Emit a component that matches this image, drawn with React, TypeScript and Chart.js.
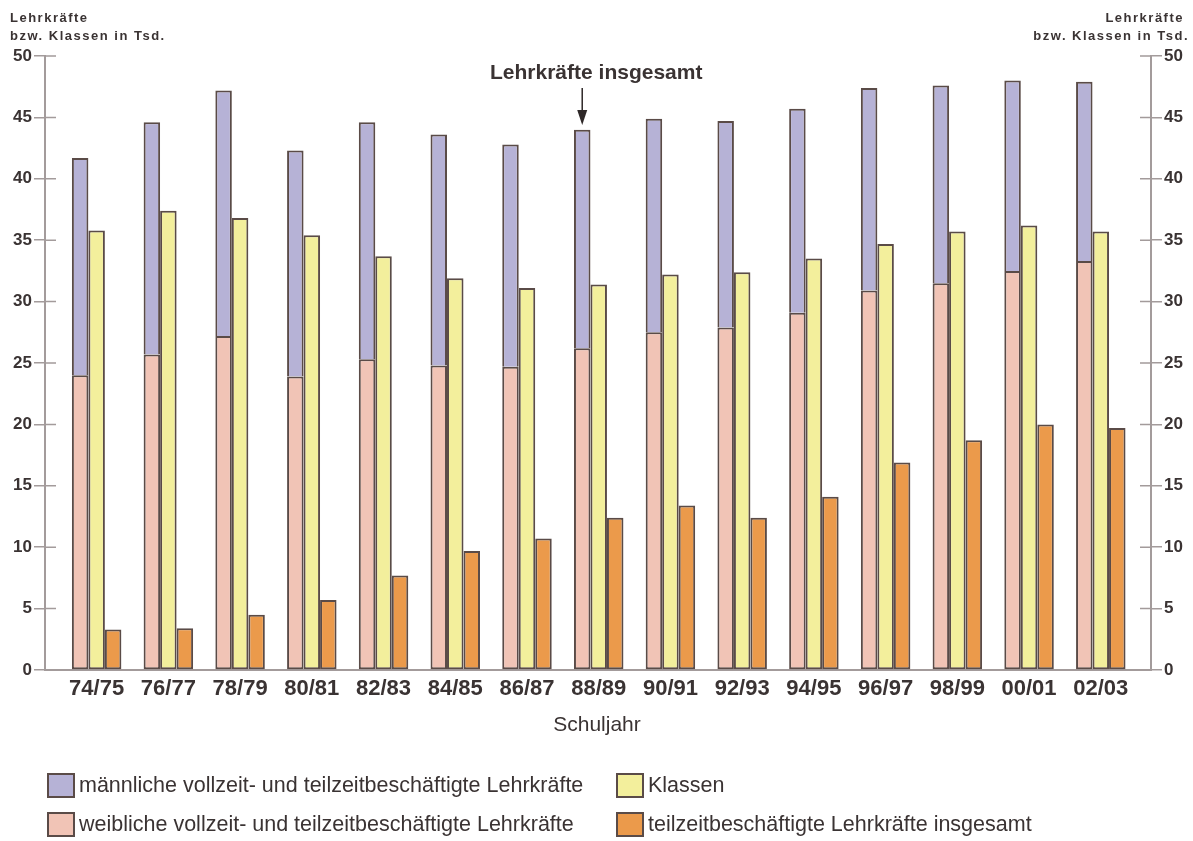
import React, { useEffect, useRef } from "react";
import { Chart, registerables } from "chart.js";

Chart.register(...registerables);

const schoolYears = ["74/75", "76/77", "78/79", "80/81", "82/83", "84/85", "86/87", "88/89", "90/91", "92/93", "94/95", "96/97", "98/99", "00/01", "02/03"];
const femaleTeachers = [24.0, 25.7, 27.2, 23.9, 25.3, 24.8, 24.7, 26.2, 27.5, 27.9, 29.1, 30.9, 31.5, 32.5, 33.3];
const maleTeachers = [17.7, 18.9, 20.0, 18.4, 19.3, 18.8, 18.1, 17.8, 17.4, 16.8, 16.6, 16.5, 16.1, 15.5, 14.6];
const classes = [35.8, 37.4, 36.8, 35.4, 33.7, 31.9, 31.1, 31.4, 32.2, 32.4, 33.5, 34.7, 35.7, 36.2, 35.7];
const partTime = [3.3, 3.4, 4.5, 5.7, 7.7, 9.7, 10.7, 12.4, 13.4, 12.4, 14.1, 16.9, 18.7, 20.0, 19.7];
const yTicks = [0, 5, 10, 15, 20, 25, 30, 35, 40, 45, 50];

const legendLabels = [
  "männliche vollzeit- und teilzeitbeschäftigte Lehrkräfte",
  "Klassen",
  "weibliche vollzeit- und teilzeitbeschäftigte Lehrkräfte",
  "teilzeitbeschäftigte Lehrkräfte insgesamt",
];

const FONT = '"Liberation Sans", Arial, Helvetica, sans-serif';
const TEXT = "#3a3333";
const AXIS = "#a39b9b";
const EDGE = "#5a4b47";
const C_MALE = "#b6b2d6";
const C_FEMALE = "#f1c4b6";
const C_CLASS = "#f3ef9c";
const C_PART = "#eb9a4b";

const toXY = (arr: number[]) => arr.map((v, i) => ({ x: i, y: v }));

const extrasPlugin = {
  id: "extras",
  afterDraw(chart: any) {
    const ctx = chart.ctx;
    const { left, right } = chart.chartArea;
    const yScale = chart.scales.y;
    ctx.save();
    // inner halves of the crossing ticks
    ctx.strokeStyle = AXIS;
    ctx.lineWidth = 1.5;
    yTicks.forEach((t) => {
      const py = yScale.getPixelForValue(t);
      if (t === 0) return;
      ctx.beginPath();
      ctx.moveTo(left, py);
      ctx.lineTo(left + 11, py);
      ctx.moveTo(right - 11, py);
      ctx.lineTo(right, py);
      ctx.stroke();
    });

    // axis titles
    ctx.fillStyle = TEXT;
    ctx.font = `bold 13px ${FONT}`;
    (ctx as any).letterSpacing = "1.5px";
    ctx.textBaseline = "alphabetic";
    ctx.textAlign = "left";
    ctx.fillText("Lehrkräfte", 10, 22);
    ctx.fillText("bzw. Klassen in Tsd.", 10, 40);
    ctx.textAlign = "right";
    ctx.fillText("Lehrkräfte", 1184, 22);
    ctx.fillText("bzw. Klassen in Tsd.", 1189, 40);
    (ctx as any).letterSpacing = "0px";

    // annotation
    const meta = chart.getDatasetMeta(1);
    const bar = meta.data[7];
    if (bar) {
      const ax = bar.x;
      ctx.textAlign = "center";
      ctx.textBaseline = "middle";
      ctx.font = `bold 21px ${FONT}`;
      ctx.fillStyle = TEXT;
      ctx.fillText("Lehrkräfte insgesamt", ax + 14, 73);
      ctx.strokeStyle = "#2e2828";
      ctx.lineWidth = 1.5;
      ctx.beginPath();
      ctx.moveTo(ax, 88);
      ctx.lineTo(ax, 114);
      ctx.stroke();
      ctx.fillStyle = "#2e2828";
      ctx.beginPath();
      ctx.moveTo(ax - 5, 110);
      ctx.lineTo(ax + 5, 110);
      ctx.lineTo(ax, 125);
      ctx.closePath();
      ctx.fill();
    }

    // x axis title
    ctx.fillStyle = TEXT;
    ctx.font = `21px ${FONT}`;
    ctx.textAlign = "center";
    ctx.textBaseline = "middle";
    ctx.fillText("Schuljahr", 597, 725);

    // legend
    const colors = [C_MALE, C_CLASS, C_FEMALE, C_PART];
    const xs = [47, 616, 47, 616];
    const ys = [773, 773, 812, 812];
    ctx.font = `21.5px ${FONT}`;
    ctx.textAlign = "left";
    ctx.textBaseline = "middle";
    legendLabels.forEach((lab, i) => {
      ctx.fillStyle = colors[i];
      ctx.fillRect(xs[i], ys[i], 28, 25);
      ctx.strokeStyle = EDGE;
      ctx.lineWidth = 2;
      ctx.strokeRect(xs[i] + 1, ys[i] + 1, 26, 23);
      ctx.fillStyle = TEXT;
      ctx.fillText(lab, xs[i] + 32, ys[i] + 13);
    });
    ctx.restore();
  },
};

export default function App() {
  const ref = useRef<HTMLCanvasElement | null>(null);
  useEffect(() => {
    if (!ref.current) return;
    const common = {
      borderColor: EDGE,
      borderWidth: 2,
      categoryPercentage: 0.69,
      barPercentage: 1.0,
    };
    const yAxis = (position: string, width: number) => ({
      type: "linear",
      position,
      min: 0,
      max: 50,
      stacked: true,
      afterFit: (s: any) => {
        s.width = width;
      },
      afterBuildTicks: (s: any) => {
        s.ticks = yTicks.map((v) => ({ value: v }));
      },
      ticks: {
        color: TEXT,
        font: { family: FONT, size: 17, weight: "bold" },
        padding: 2,
      },
      grid: {
        display: true,
        drawOnChartArea: false,
        drawTicks: true,
        tickLength: 11,
        color: AXIS,
        lineWidth: 1.5,
      },
      border: { display: true, color: AXIS, width: 2 },
    });
    const chart = new Chart(ref.current, {
      type: "bar",
      data: {
        datasets: [
          { label: legendLabels[2], data: toXY(femaleTeachers), backgroundColor: C_FEMALE, stack: "teachers", borderSkipped: false, ...common },
          { label: legendLabels[0], data: toXY(maleTeachers), backgroundColor: C_MALE, stack: "teachers", borderSkipped: "bottom", ...common },
          { label: legendLabels[1], data: toXY(classes), backgroundColor: C_CLASS, stack: "classes", borderSkipped: false, ...common },
          { label: legendLabels[3], data: toXY(partTime), backgroundColor: C_PART, stack: "parttime", borderSkipped: false, ...common },
        ],
      } as any,
      options: {
        responsive: false,
        animation: false,
        maintainAspectRatio: false,
        layout: { padding: { top: 56, left: 0, right: 0, bottom: 0 } },
        plugins: { legend: { display: false }, tooltip: { enabled: false }, title: { display: false } },
        scales: {
          x: {
            type: "linear",
            min: -0.72,
            max: 14.7,
            offset: false,
            stacked: true,
            afterFit: (s: any) => {
              s.height = 171;
            },
            afterBuildTicks: (s: any) => {
              s.ticks = schoolYears.map((_, i) => ({ value: i }));
            },
            ticks: {
              autoSkip: false,
              maxRotation: 0,
              color: TEXT,
              padding: 6,
              font: { family: FONT, size: 22, weight: "bold" },
              callback: (v: any) => schoolYears[v] ?? "",
            },
            grid: { display: false, drawTicks: false },
            border: { display: true, color: AXIS, width: 2 },
          },
          y: yAxis("left", 45),
          y2: yAxis("right", 42),
        },
      } as any,
      plugins: [extrasPlugin],
    });
    return () => chart.destroy();
  }, []);
  return (
    <div style={{ position: "absolute", left: 0, top: 0, width: 1193, height: 841, background: "#fff" }}>
      <canvas ref={ref} width={1193} height={841} style={{ display: "block" }} />
    </div>
  );
}
